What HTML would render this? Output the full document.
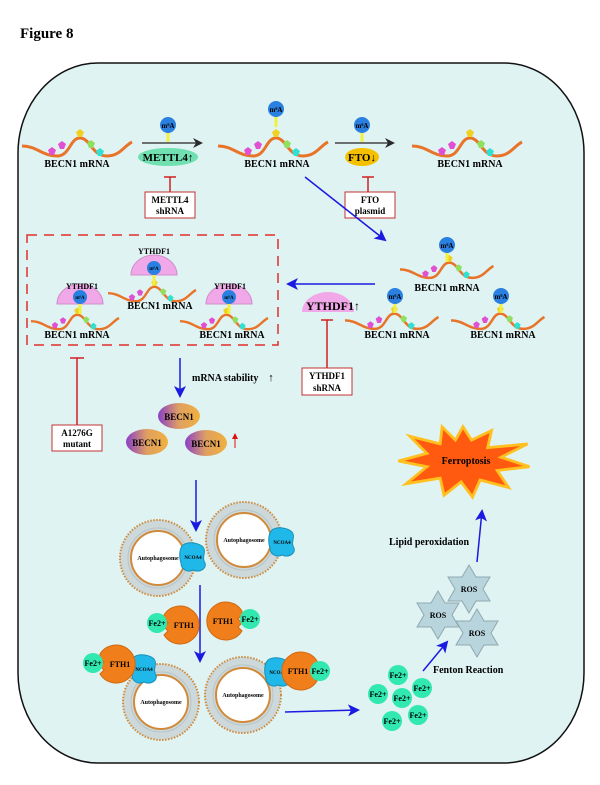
<!DOCTYPE html>
<html><head><meta charset="utf-8"><style>
html,body{margin:0;padding:0;background:#fff}
svg{display:block}
text{font-family:"Liberation Serif",serif;font-weight:bold}
</style></head><body>
<svg width="600" height="785" viewBox="0 0 600 785" xmlns="http://www.w3.org/2000/svg">
<defs>
<marker id="ab" markerWidth="10" markerHeight="10" refX="8" refY="5" orient="auto" markerUnits="userSpaceOnUse"><path d="M0,0 L10,5 L0,10 L3,5z" fill="#2a2a2a"/></marker>
<marker id="bl" markerWidth="12" markerHeight="12" refX="10" refY="6" orient="auto" markerUnits="userSpaceOnUse"><path d="M0,0 L12,6 L0,12 L3,6z" fill="#1a1ae0"/></marker>
<marker id="rd" markerWidth="6" markerHeight="6" refX="5" refY="3" orient="auto" markerUnits="userSpaceOnUse"><path d="M0,0 L6,3 L0,6z" fill="#e01010"/></marker>
<linearGradient id="bg" x1="0" x2="1"><stop offset="0" stop-color="#8a3fc8"/><stop offset="0.5" stop-color="#e0a060"/><stop offset="1" stop-color="#f0b040"/></linearGradient>
<g id="wave">
<path d="M0,4 C15,4 20,14 35,14 C48,14 48,-4 58,-4 C68,-4 70,14 85,14 C98,14 102,4 110,0" fill="none" stroke="#e8742a" stroke-width="3"/>
<polygon points="30,5 34,8 32,13 28,13 26,8" fill="#e050d0"/>
<polygon points="40,-1 44,2 42,7 38,7 36,2" fill="#e050d0"/>
<polygon points="58,-13 62,-10 60,-5 56,-5 54,-10" fill="#f0d020"/>
<polygon points="69,-2 73,1 71,6 67,6 65,1" fill="#90e060"/>
<polygon points="78,6 82,9 80,14 76,14 74,9" fill="#30e0d0"/>
</g>
<g id="m6a"><line x1="0" y1="7" x2="0" y2="17" stroke="#f0f040" stroke-width="3"/><circle r="8" fill="#2a80e0"/><text y="3" font-size="7" text-anchor="middle">m⁶A</text></g>
<g id="ydf"><path d="M-23,0 A23,20 0 0 1 23,0 z" fill="#f0a8e8" stroke="#d090c8"/><line x1="0" y1="0" x2="0" y2="10" stroke="#f0f040" stroke-width="3"/><circle cy="-7" r="7" fill="#2a80e0"/><text y="-5" font-size="5" text-anchor="middle">m⁶A</text></g>
<g id="auto"><circle r="38" fill="#ccd8da" stroke="#d08a3a" stroke-width="2" stroke-dasharray="1.5 1.5"/><circle r="30" fill="none" stroke="#b8c4c6" stroke-width="1"/><circle r="27" fill="#fff" stroke="#d08a3a" stroke-width="2"/><text y="2" font-size="6" text-anchor="middle">Autophagosome</text></g>
<g id="ncoa"><path d="M-10,-12 C-4,-16 6,-14 10,-10 C14,-5 8,0 12,6 C14,12 6,16 0,13 C-6,16 -12,12 -12,6 C-14,0 -14,-8 -10,-12z" fill="#20b8e8" stroke="#1890b8"/><text x="0" y="2" font-size="5" text-anchor="middle">NCOA4</text></g>
<g id="fe"><circle r="10" fill="#30e8b0"/><text y="3" font-size="8" text-anchor="middle">Fe2+</text></g>
<g id="fth"><path d="M-16,-10 A19,19 0 1 1 -16,10 L-12,6 L-16,2 L-12,-2 L-16,-6z" fill="#f07e1a" stroke="#d06a10"/><text x="4" y="3" font-size="8" text-anchor="middle">FTH1</text></g>
<polygon id="star" points="0,-24 7,-12 21,-12 14,0 21,12 7,12 0,24 -7,12 -21,12 -14,0 -21,-12 -7,-12" fill="#b8d4dc" stroke="#90a8b0"/>
</defs>

<text x="20" y="38" font-size="15">Figure 8</text>
<rect x="18" y="63" width="566" height="700" rx="80" ry="90" fill="#e0f3f3" stroke="#111" stroke-width="1.5"/>

<!-- top row -->
<use href="#wave" x="22" y="142"/>
<text x="77" y="167" font-size="10" text-anchor="middle">BECN1 mRNA</text>
<line x1="142" y1="143" x2="201" y2="143" stroke="#444" stroke-width="1.5" marker-end="url(#ab)"/>
<use href="#m6a" x="168" y="125"/>
<ellipse cx="168" cy="157" rx="30" ry="9" fill="#70e0b0"/>
<text x="168" y="161" font-size="11" text-anchor="middle">METTL4↑</text>
<line x1="170" y1="177" x2="170" y2="192" stroke="#d02020" stroke-width="1.5"/><line x1="164" y1="177" x2="176" y2="177" stroke="#d02020" stroke-width="1.5"/>
<rect x="145" y="192" width="50" height="26" fill="#fff" stroke="#c03030"/>
<text x="170" y="203" font-size="9" text-anchor="middle">METTL4</text><text x="170" y="214" font-size="9" text-anchor="middle">shRNA</text>

<use href="#wave" x="218" y="142"/>
<line x1="276" y1="117" x2="276" y2="127" stroke="#f0f040" stroke-width="3"/>
<use href="#m6a" x="276" y="109"/>
<text x="277" y="167" font-size="10" text-anchor="middle">BECN1 mRNA</text>
<line x1="335" y1="143" x2="393" y2="143" stroke="#444" stroke-width="1.5" marker-end="url(#ab)"/>
<use href="#m6a" x="362" y="125"/>
<ellipse cx="362" cy="157" rx="17" ry="9" fill="#f5c000"/>
<text x="362" y="161" font-size="11" text-anchor="middle">FTO↓</text>
<line x1="368" y1="177" x2="368" y2="192" stroke="#d02020" stroke-width="1.5"/><line x1="362" y1="177" x2="374" y2="177" stroke="#d02020" stroke-width="1.5"/>
<rect x="345" y="192" width="50" height="26" fill="#fff" stroke="#c03030"/>
<text x="370" y="203" font-size="9" text-anchor="middle">FTO</text><text x="370" y="214" font-size="9" text-anchor="middle">plasmid</text>

<use href="#wave" x="412" y="142"/>
<text x="470" y="167" font-size="10" text-anchor="middle">BECN1 mRNA</text>
<line x1="305" y1="177" x2="385" y2="240" stroke="#1a1ae0" stroke-width="1.5" marker-end="url(#bl)"/>

<!-- right group -->
<g transform="translate(400,266) scale(0.85)"><use href="#wave"/></g>
<use href="#m6a" x="447" y="245"/>
<text x="447" y="291" font-size="10" text-anchor="middle">BECN1 mRNA</text>
<g transform="translate(345,317) scale(0.85)"><use href="#wave"/></g>
<use href="#m6a" x="395" y="296"/>
<text x="397" y="338" font-size="10" text-anchor="middle">BECN1 mRNA</text>
<g transform="translate(451,317) scale(0.85)"><use href="#wave"/></g>
<use href="#m6a" x="501" y="296"/>
<text x="503" y="338" font-size="10" text-anchor="middle">BECN1 mRNA</text>
<line x1="375" y1="284" x2="288" y2="284" stroke="#1a1ae0" stroke-width="1.5" marker-end="url(#bl)"/>
<path d="M302,312 A26,20 0 0 1 354,312 z" fill="#f0a8e8"/>
<text x="333" y="310" font-size="12" text-anchor="middle">YTHDF1↑</text>
<line x1="327" y1="320" x2="327" y2="368" stroke="#d02020" stroke-width="1.5"/><line x1="321" y1="320" x2="333" y2="320" stroke="#d02020" stroke-width="1.5"/>
<rect x="302" y="368" width="50" height="27" fill="#fff" stroke="#c03030"/>
<text x="327" y="379" font-size="9" text-anchor="middle">YTHDF1</text><text x="327" y="391" font-size="9" text-anchor="middle">shRNA</text>

<!-- dashed box -->
<rect x="27" y="235" width="251" height="110" fill="none" stroke="#e03030" stroke-width="1.5" stroke-dasharray="10 7"/>
<g transform="translate(31,318) scale(0.8)"><use href="#wave"/></g>
<use href="#ydf" x="80" y="304"/>
<text x="82" y="289" font-size="8" text-anchor="middle">YTHDF1</text>
<text x="77" y="338" font-size="10" text-anchor="middle">BECN1 mRNA</text>
<g transform="translate(108,290) scale(0.8)"><use href="#wave"/></g>
<use href="#ydf" x="154" y="275"/>
<text x="154" y="254" font-size="8" text-anchor="middle">YTHDF1</text>
<text x="160" y="309" font-size="10" text-anchor="middle">BECN1 mRNA</text>
<g transform="translate(180,318) scale(0.8)"><use href="#wave"/></g>
<use href="#ydf" x="229" y="304"/>
<text x="230" y="289" font-size="8" text-anchor="middle">YTHDF1</text>
<text x="232" y="338" font-size="10" text-anchor="middle">BECN1 mRNA</text>

<line x1="77" y1="358" x2="77" y2="425" stroke="#d02020" stroke-width="1.5"/><line x1="70" y1="358" x2="84" y2="358" stroke="#d02020" stroke-width="1.5"/>
<rect x="52" y="425" width="50" height="26" fill="#fff" stroke="#c03030"/>
<text x="77" y="436" font-size="9" text-anchor="middle">A1276G</text><text x="77" y="447" font-size="9" text-anchor="middle">mutant</text>

<line x1="180" y1="358" x2="180" y2="396" stroke="#1a1ae0" stroke-width="1.5" marker-end="url(#bl)"/>
<text x="192" y="381" font-size="10">mRNA stability</text>
<text x="271" y="381" font-size="11" text-anchor="middle">↑</text>
<ellipse cx="179" cy="416" rx="21" ry="13" fill="url(#bg)"/><text x="179" y="420" font-size="9" text-anchor="middle">BECN1</text>
<ellipse cx="147" cy="442" rx="21" ry="13" fill="url(#bg)"/><text x="147" y="446" font-size="9" text-anchor="middle">BECN1</text>
<ellipse cx="206" cy="443" rx="21" ry="13" fill="url(#bg)"/><text x="206" y="447" font-size="9" text-anchor="middle">BECN1</text>
<line x1="235" y1="448" x2="235" y2="434" stroke="#e01010" stroke-width="1" marker-end="url(#rd)"/>

<!-- ferroptosis -->
<g transform="translate(463,461) scale(0.95,0.95)">
<polygon points="0,-36 9,-22 30,-32 26,-14 68,-18 40,-4 70,6 36,10 48,28 18,20 10,38 -2,22 -20,36 -24,18 -60,24 -38,6 -68,0 -38,-8 -56,-26 -24,-18 -22,-36 -8,-22" fill="#ff5a10" stroke="#ffc020" stroke-width="3"/>
</g>
<text x="466" y="464" font-size="10" text-anchor="middle">Ferroptosis</text>

<!-- autophagy -->
<line x1="196" y1="480" x2="196" y2="530" stroke="#1a1ae0" stroke-width="1.5" marker-end="url(#bl)"/>
<use href="#auto" x="158" y="558"/><use href="#ncoa" x="193" y="557"/>
<use href="#auto" x="244" y="540"/><use href="#ncoa" x="282" y="542"/>
<line x1="200" y1="585" x2="200" y2="661" stroke="#1a1ae0" stroke-width="1.5" marker-end="url(#bl)"/>
<use href="#fth" x="180" y="625"/><use href="#fe" x="157" y="623"/>
<g transform="translate(226,621) scale(-1,1)"><path d="M-16,-10 A19,19 0 1 1 -16,10 L-12,6 L-16,2 L-12,-2 L-16,-6z" fill="#f07e1a" stroke="#d06a10"/></g>
<text x="223" y="624" font-size="8" text-anchor="middle">FTH1</text>
<use href="#fe" x="250" y="619"/>
<use href="#auto" x="161" y="702"/><use href="#ncoa" x="144" y="669"/>
<use href="#fth" x="116" y="664"/><use href="#fe" x="93" y="663"/>
<use href="#auto" x="243" y="695"/><use href="#ncoa" x="278" y="672"/>
<g transform="translate(301,671) scale(-1,1)"><path d="M-16,-10 A19,19 0 1 1 -16,10 L-12,6 L-16,2 L-12,-2 L-16,-6z" fill="#f07e1a" stroke="#d06a10"/></g>
<text x="298" y="674" font-size="8" text-anchor="middle">FTH1</text>
<use href="#fe" x="320" y="671"/>
<line x1="285" y1="712" x2="358" y2="710" stroke="#1a1ae0" stroke-width="1.5" marker-end="url(#bl)"/>
<use href="#fe" x="398" y="675"/><use href="#fe" x="378" y="694"/><use href="#fe" x="402" y="698"/>
<use href="#fe" x="422" y="688"/><use href="#fe" x="392" y="721"/><use href="#fe" x="418" y="715"/>
<line x1="423" y1="671" x2="447" y2="642" stroke="#1a1ae0" stroke-width="1.5" marker-end="url(#bl)"/>
<text x="433" y="673" font-size="10">Fenton Reaction</text>
<use href="#star" x="438" y="615"/><text x="438" y="618" font-size="8" text-anchor="middle">ROS</text>
<use href="#star" x="469" y="589"/><text x="469" y="592" font-size="8" text-anchor="middle">ROS</text>
<use href="#star" x="477" y="633"/><text x="477" y="636" font-size="8" text-anchor="middle">ROS</text>
<line x1="477" y1="562" x2="482" y2="511" stroke="#1a1ae0" stroke-width="1.5" marker-end="url(#bl)"/>
<text x="389" y="545" font-size="10">Lipid peroxidation</text>
</svg>
</body></html>
